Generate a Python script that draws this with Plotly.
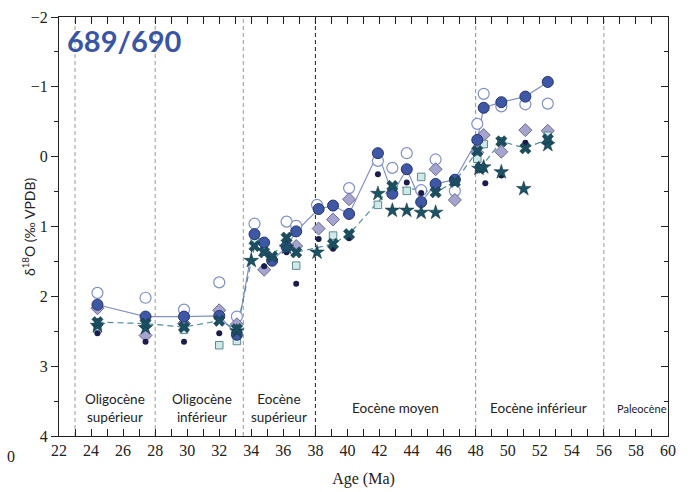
import plotly.graph_objects as go

# ---- data (age in Ma, d18O in permil VPDB) ----
filled_age = [24.4, 27.4, 29.8, 32.0, 33.1, 34.2, 34.8, 35.3, 36.2, 36.8, 38.2, 39.1, 40.1, 41.9, 42.8, 43.7, 44.6, 45.5, 46.7, 48.1, 48.5, 49.6, 51.1, 52.5]
filled_d18o = [2.12, 2.29, 2.29, 2.28, 2.55, 1.11, 1.23, 1.49, 1.29, 1.07, 0.75, 0.70, 0.82, -0.05, 0.53, 0.18, 0.65, 0.39, 0.33, -0.24, -0.70, -0.78, -0.86, -1.07]

open_age = [24.4, 27.4, 29.8, 32.0, 33.1, 34.2, 36.2, 36.8, 38.1, 40.1, 41.9, 42.8, 43.7, 44.6, 45.5, 46.7, 48.1, 48.5, 49.6, 51.1, 52.5]
open_d18o = [1.95, 2.02, 2.19, 1.80, 2.29, 0.96, 0.93, 0.99, 0.69, 0.45, 0.06, 0.16, -0.05, 0.48, 0.04, 0.49, -0.47, -0.90, -0.72, -0.75, -0.76]

diamond_age = [24.4, 27.4, 29.8, 32.0, 33.1, 34.8, 36.8, 38.2, 39.1, 40.1, 45.5, 46.7, 48.1, 48.5, 49.6, 51.1, 52.5]
diamond_d18o = [2.17, 2.56, 2.39, 2.20, 2.40, 1.62, 1.28, 1.03, 0.90, 0.61, 0.18, 0.62, -0.06, -0.31, -0.07, -0.38, -0.37]

dot_age = [24.4, 27.4, 29.8, 32.0, 33.1, 34.8, 36.2, 36.8, 38.2, 39.1, 40.1, 41.9, 43.7, 44.6, 48.2, 48.6, 49.6, 51.1]
dot_d18o = [2.53, 2.65, 2.65, 2.53, 2.52, 1.57, 1.37, 1.82, 1.18, 1.32, 1.17, 0.25, 0.37, 0.52, 0.14, 0.38, 0.27, -0.20]

square_age = [24.4, 29.8, 32.0, 33.1, 34.2, 34.8, 36.8, 39.1, 41.9, 43.7, 44.6, 48.1, 48.5, 49.6, 52.5]
square_d18o = [2.47, 2.48, 2.70, 2.64, 1.20, 1.36, 1.56, 1.13, 0.69, 0.49, 0.29, 0.03, -0.18, -0.22, -0.30]

cross_age = [24.4, 27.4, 29.8, 32.0, 33.1, 34.2, 34.8, 35.3, 36.2, 36.8, 39.1, 40.1, 42.8, 45.5, 46.7, 48.1, 48.3, 49.6, 51.1, 52.5]
cross_d18o = [2.37, 2.39, 2.44, 2.35, 2.47, 1.28, 1.37, 1.43, 1.16, 1.37, 1.25, 1.11, 0.42, 0.51, 0.36, -0.08, 0.16, -0.22, -0.12, -0.25]

star_age = [24.4, 27.4, 33.1, 34.0, 36.2, 38.1, 41.9, 42.8, 43.7, 44.6, 45.5, 48.2, 48.5, 49.6, 51.0, 52.5]
star_d18o = [2.42, 2.45, 2.50, 1.49, 1.30, 1.37, 0.53, 0.77, 0.77, 0.80, 0.80, 0.17, 0.15, 0.22, 0.46, -0.17]

# epoch boundaries and labels
boundaries = [23, 28, 33.5, 38, 48, 56]
boundary_colors = ["#9a9a9a", "#9a9a9a", "#9a9a9a", "#222222", "#8a8a8a", "#9a9a9a"]
epoch_labels = ["Oligocène<br>supérieur", "Oligocène<br>inférieur", "Eocène<br>supérieur", "Eocène moyen", "Eocène inférieur", "Paleocène"]
epoch_centers = [25.5, 30.9, 35.7, 43.0, 51.9, 58.4]

x_ticks = list(range(22, 61, 2))
y_ticks = [-2, -1, 0, 1, 2, 3, 4]

fig = go.Figure()

fig.add_trace(go.Scatter(x=filled_age, y=filled_d18o, mode="lines",
                         line=dict(color="#8391c6", width=1.2), hoverinfo="skip"))
fig.add_trace(go.Scatter(x=cross_age, y=cross_d18o, mode="lines",
                         line=dict(color="#4f8f9c", width=1.2, dash="6px,4px"), hoverinfo="skip"))

fig.add_trace(go.Scatter(x=open_age, y=open_d18o, mode="markers",
                         marker=dict(symbol="circle", size=11, color="white",
                                     line=dict(color="#7f8fc8", width=1.2))))
fig.add_trace(go.Scatter(x=diamond_age, y=diamond_d18o, mode="markers",
                         marker=dict(symbol="diamond", size=10, color="#a4a4cc",
                                     line=dict(color="#6b6b96", width=1))))
fig.add_trace(go.Scatter(x=square_age, y=square_d18o, mode="markers",
                         marker=dict(symbol="square", size=7.5, color="#cfe9e7",
                                     line=dict(color="#5f8a90", width=1))))
fig.add_trace(go.Scatter(x=dot_age, y=dot_d18o, mode="markers",
                         marker=dict(symbol="circle", size=6, color="#1a1c4c")))
fig.add_trace(go.Scatter(x=filled_age, y=filled_d18o, mode="markers",
                         marker=dict(symbol="circle", size=11, color="#3f58a6",
                                     line=dict(color="#24336e", width=1))))
fig.add_trace(go.Scatter(x=star_age, y=star_d18o, mode="markers",
                         marker=dict(symbol="star", size=11, color="#1c5264",
                                     line=dict(color="#10333f", width=0.5))))
fig.add_trace(go.Scatter(x=cross_age, y=cross_d18o, mode="markers",
                         marker=dict(symbol="x", size=10, color="#1a4e60",
                                     line=dict(color="#10333f", width=0.5))))
# invisible trace to register right-hand y axis
fig.add_trace(go.Scatter(x=[None], y=[None], yaxis="y2", showlegend=False, hoverinfo="skip"))

for b, c in zip(boundaries, boundary_colors):
    fig.add_shape(type="line", xref="x", yref="paper", x0=b, x1=b, y0=0, y1=1,
                  line=dict(color=c, width=1, dash="4px,3px"), layer="below")

for lab, cx in zip(epoch_labels, epoch_centers):
    small = lab == "Paleocène"
    fig.add_annotation(x=cx, y=3.6, xref="x", yref="y", text=lab, showarrow=False,
                       font=dict(family="Lato, Open Sans, sans-serif", size=11 if small else 13.5, color="#222"),
                       align="center")

fig.add_annotation(x=0.01, y=0.945, xref="paper", yref="paper", text="<b>689/690</b>",
                   showarrow=False, xanchor="left", yanchor="middle",
                   font=dict(family="Lato, Open Sans, sans-serif", size=29, color="#3a55a5"))

# y-axis title placed as rotated text
fig.add_annotation(x=-0.05, y=0.5, xref="paper", yref="paper", text="δ<sup>18</sup>O (‰ VPDB)",
                   showarrow=False, textangle=-90, xanchor="center", yanchor="middle",
                   font=dict(family="Lato, Open Sans, sans-serif", size=14, color="#222"))

# stray tick label from the neighbouring panel
fig.add_annotation(x=-0.078, y=-0.05, xref="paper", yref="paper", text="0", showarrow=False,
                   xanchor="center", yanchor="middle",
                   font=dict(family="Liberation Serif, serif", size=16, color="#222"))

axis_font = dict(family="Liberation Serif, Times New Roman, serif", size=16, color="#222")

fig.update_layout(
    width=696, height=492,
    margin=dict(l=59, r=28, t=17, b=56, autoexpand=False),
    paper_bgcolor="white", plot_bgcolor="white",
    showlegend=False,
    xaxis=dict(range=[22, 60], tickvals=x_ticks, ticks="inside", ticklen=7, tickcolor="#222",
               showline=True, linecolor="#222", linewidth=1.2, mirror="allticks",
               showgrid=False, zeroline=False, tickfont=axis_font, automargin=False,
               minor=dict(dtick=1, ticklen=4, ticks="inside", tickcolor="#222"),
               title=dict(text="Age (Ma)", font=axis_font, standoff=14)),
    yaxis=dict(range=[4, -2], tickvals=y_ticks, ticks="outside", ticklen=7, tickcolor="#222",
               showline=True, linecolor="#222", linewidth=1.2, mirror=False, automargin=False,
               showgrid=False, zeroline=False, tickfont=axis_font,
               minor=dict(dtick=0.5, ticklen=4, ticks="outside", tickcolor="#222")),
    yaxis2=dict(range=[4, -2], overlaying="y", side="right", tickvals=y_ticks, ticks="inside",
                ticklen=7, tickcolor="#222", showticklabels=False, showline=True, automargin=False,
                linecolor="#222", linewidth=1.2, showgrid=False, zeroline=False,
                minor=dict(dtick=0.5, ticklen=4, ticks="inside", tickcolor="#222")),
)

fig.write_html("out.html", config={"displayModeBar": False},
               post_script="document.body.style.margin='0px';document.body.style.overflow='hidden';")
